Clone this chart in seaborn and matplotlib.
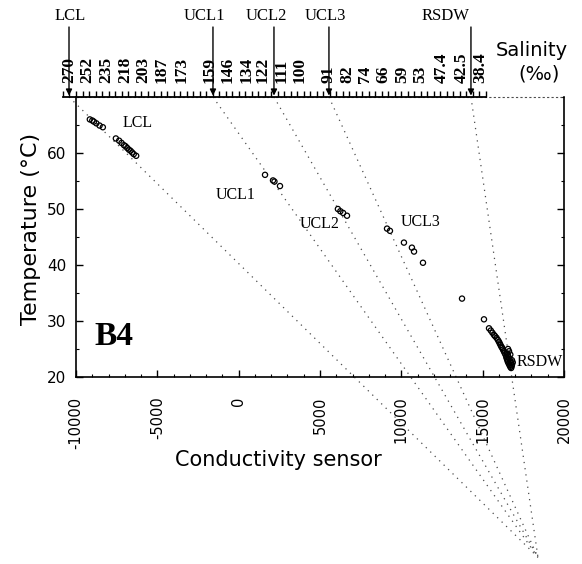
import matplotlib
matplotlib.use('Agg')
import matplotlib.pyplot as plt
import matplotlib.transforms as mtransforms
from matplotlib.ticker import MultipleLocator
import seaborn as sns
import pandas as pd

# End members marked on the salinity scale (conductivity units at the top of the plot)
end_members = ['LCL', 'UCL1', 'UCL2', 'UCL3', 'RSDW']
end_member_cond = [-10430, -1580, 2170, 5550, 14280]
end_member_temp = 70
# common point where all mixing lines meet (below the plot)
sink_cond = 18400
sink_temp = -12.2

# Salinity scale along the top
salinity_labels = ['270', '252', '235', '218', '203', '187', '173', '159', '146', '134', '122',
                   '111', '100', '91', '82', '74', '66', '59', '53', '47.4', '42.5', '38.4']
salinity_cond = [-10430, -9320, -8160, -6990, -5880, -4710, -3480, -1760, -660, 510, 1500,
                 2660, 3770, 5550, 6660, 7770, 8870, 10040, 11150, 12500, 13730, 14840]

# Measured samples
lcl_cond = [-9150, -9000, -8900, -8750, -8550, -8350, -7550, -7350, -7200, -7050, -6950, -6850,
            -6750, -6650, -6550, -6450, -6300]
lcl_temp = [66.0, 65.8, 65.6, 65.3, 64.9, 64.6, 62.6, 62.2, 61.8, 61.4, 61.2, 60.9,
            60.6, 60.4, 60.1, 59.8, 59.5]
ucl1_cond = [1620, 2110, 2200, 2540]
ucl1_temp = [56.1, 55.1, 54.9, 54.1]
ucl2_cond = [6100, 6250, 6420, 6660]
ucl2_temp = [50.0, 49.6, 49.3, 48.8]
ucl3_cond = [9120, 9300, 10160, 10650, 10780, 11330]
ucl3_temp = [46.5, 46.1, 44.0, 43.1, 42.4, 40.4]
rsdw_cond = [13730, 15080, 15390, 15500, 15600, 15700, 15760, 15850, 15940, 16000, 16050, 16100,
             16150, 16200, 16250, 16300, 16350, 16400, 16450, 16480, 16520, 16550, 16600, 16650,
             16700, 16750, 16500, 16550, 16600, 16650, 16700, 16750, 16800, 16800, 16700, 16620,
             16560, 16850, 16780]
rsdw_temp = [34.0, 30.3, 28.7, 28.3, 27.9, 27.5, 27.3, 27.0, 26.6, 26.3, 26.0, 25.7,
             25.4, 25.2, 24.9, 24.6, 24.3, 24.0, 23.6, 23.3, 23.0, 22.7, 22.4, 22.1,
             21.8, 21.6, 24.2, 23.9, 23.5, 23.2, 22.8, 22.5, 22.2, 23.0, 24.0, 24.6,
             25.0, 22.6, 21.9]

samples = pd.concat([
    pd.DataFrame({'cond': lcl_cond, 'temp': lcl_temp, 'group': 'LCL'}),
    pd.DataFrame({'cond': ucl1_cond, 'temp': ucl1_temp, 'group': 'UCL1'}),
    pd.DataFrame({'cond': ucl2_cond, 'temp': ucl2_temp, 'group': 'UCL2'}),
    pd.DataFrame({'cond': ucl3_cond, 'temp': ucl3_temp, 'group': 'UCL3'}),
    pd.DataFrame({'cond': rsdw_cond, 'temp': rsdw_temp, 'group': 'RSDW'}),
])

sns.set_style('white')
plt.rcParams['font.family'] = ['DejaVu Sans']
plt.rcParams['text.color'] = 'black'
plt.rcParams['axes.labelcolor'] = 'black'
plt.rcParams['xtick.color'] = 'black'
plt.rcParams['ytick.color'] = 'black'
serif = 'Liberation Serif'

fig = plt.figure(figsize=(5.82, 5.64), dpi=100)
ax = fig.add_axes([76 / 582, 187 / 564, 488 / 582, 280 / 564])

# mixing lines from each end member to the common point
for cond in end_member_cond:
    ax.plot([cond, sink_cond], [end_member_temp, sink_temp], linestyle=(0, (1, 4)),
            color='0.3', linewidth=0.9, clip_on=False, zorder=1)

sns.scatterplot(data=samples, x='cond', y='temp', ax=ax, marker='o', s=14,
                facecolor='none', edgecolor='black', linewidth=0.9, legend=False, zorder=3)

ax.set_xlim(-10000, 20000)
ax.set_ylim(20, 70)
ax.set_xticks(range(-10000, 20001, 5000))
ax.set_xticklabels([str(v) for v in range(-10000, 20001, 5000)], rotation=90, fontsize=10.5)
ax.set_yticks([20, 30, 40, 50, 60])
ax.set_yticklabels(['20', '30', '40', '50', '60'], fontsize=11)
ax.xaxis.set_minor_locator(MultipleLocator(1000))
ax.yaxis.set_minor_locator(MultipleLocator(5))
ax.tick_params(axis='both', which='major', direction='in', length=5, width=1, color='black',
               bottom=True, left=True, right=True, top=False)
ax.tick_params(axis='both', which='minor', direction='in', length=2.5, width=0.8,
               bottom=True, left=True, right=True, top=False)
ax.tick_params(axis='x', which='major', pad=14)
ax.tick_params(axis='y', which='major', pad=7)
for side in ['left', 'right', 'bottom']:
    ax.spines[side].set_color('black')
    ax.spines[side].set_linewidth(1.2)
ax.spines['top'].set_color('0.3')
ax.spines['top'].set_linestyle((0, (1, 3)))
ax.spines['top'].set_linewidth(0.8)

ax.set_xlabel('Conductivity sensor', fontsize=15)
ax.xaxis.set_label_coords(0.414, -0.26)
ax.set_ylabel('Temperature (°C)', fontsize=16)
ax.yaxis.set_label_coords(-0.072, 0.53)

# in-plot labels
ax.text(-6200, 65.3, 'LCL', family=serif, fontsize=11.5, ha='center', va='center')
ax.text(-160, 52.5, 'UCL1', family=serif, fontsize=11.5, ha='center', va='center')
ax.text(5000, 47.4, 'UCL2', family=serif, fontsize=11.5, ha='center', va='center')
ax.text(11200, 47.6, 'UCL3', family=serif, fontsize=11.5, ha='center', va='center')
ax.text(17100, 22.6, 'RSDW', family=serif, fontsize=11.5, ha='left', va='center', clip_on=False)
ax.text(-8850, 27.2, 'B4', family=serif, fontsize=24, fontweight='heavy', ha='left', va='center')

# salinity scale on top
pos = ax.get_position()
unit = pos.width / 30000
top_lo, top_hi = -10800, 15200
ax2 = fig.add_axes([pos.x0 + (top_lo + 10000) * unit, pos.y0, (top_hi - top_lo) * unit, pos.height])
ax2.patch.set_visible(False)
ax2.set_xlim(top_lo, top_hi)
ax2.set_yticks([])
for side in ['left', 'right', 'bottom']:
    ax2.spines[side].set_visible(False)
ax2.spines['top'].set_color('black')
ax2.spines['top'].set_linewidth(1.3)
ax2.xaxis.tick_top()
ax2.set_xticks(salinity_cond)
ax2.set_xticklabels(salinity_labels, rotation=90, fontsize=12.5, fontweight='bold', family=serif)
ax2.xaxis.set_minor_locator(MultipleLocator(400))
ax2.tick_params(axis='x', which='major', length=0, pad=10)
ax2.tick_params(axis='x', which='minor', direction='out', length=4, width=1, top=True, bottom=False)

fig.text(532 / 582, 1 - 50 / 564, 'Salinity', fontsize=14, ha='center', va='center')
fig.text(539 / 582, 1 - 74 / 564, '(‰)', fontsize=14, ha='center', va='center')

# end member names with arrows down to the scale
label_x = [-10370, -2130, 1680, 5310, 12720]
trans = mtransforms.blended_transform_factory(ax.transData, fig.transFigure)
for name, cond, lx in zip(end_members, end_member_cond, label_x):
    ax.text(lx, 1 - 16 / 564, name, transform=trans, family=serif, fontsize=12,
            ha='center', va='center', clip_on=False)
    ax.annotate('', xy=(cond, 1.005), xycoords=('data', 'axes fraction'),
                xytext=(cond, 1 - 27 / 564), textcoords=trans,
                arrowprops=dict(arrowstyle='-|>', color='black', lw=1, mutation_scale=9,
                                shrinkA=0, shrinkB=0),
                annotation_clip=False)

fig.savefig('out.png', dpi=100)
